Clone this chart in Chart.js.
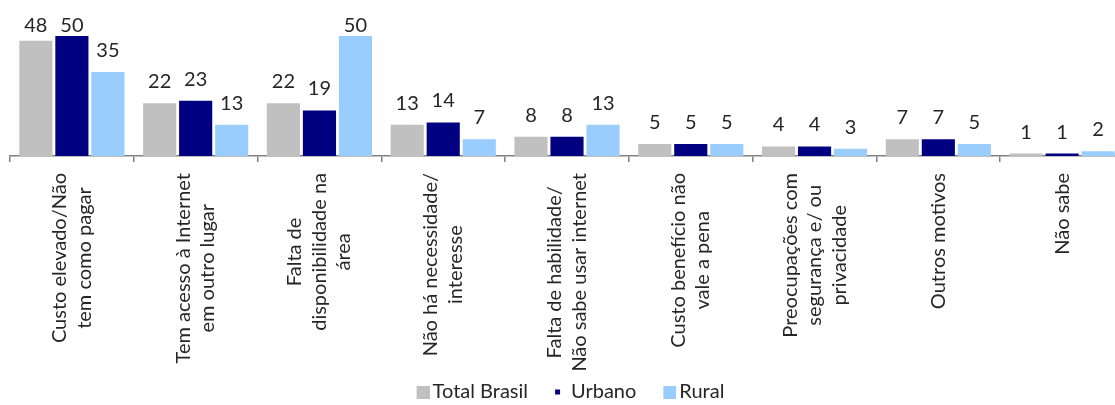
<!DOCTYPE html>
<html>
<head>
<meta charset="utf-8">
<script src="https://cdn.jsdelivr.net/npm/chart.js@4"></script>
<style>
  html, body { margin: 0; padding: 0; overflow: hidden; background: #fff; }
  #wrap { width: 1115px; height: 405px; overflow: hidden; }
  canvas { display: block; }
</style>
</head>
<body>
<div id="wrap"><canvas id="chart" width="1135" height="405" style="width:1135px;height:405px"></canvas></div>
<script>
// Motivos para não ter Internet no domicílio (%)
const categories = [
  ['Custo elevado/Não', 'tem como pagar'],
  ['Tem acesso à Internet', 'em outro lugar'],
  ['Falta de', 'disponibilidade na', 'área'],
  ['Não há necessidade/', 'interesse'],
  ['Falta de habilidade/', 'Não sabe usar internet'],
  ['Custo benefício não', 'vale a pena'],
  ['Preocupações com', 'segurança e/ ou', 'privacidade'],
  ['Outros motivos'],
  ['Não sabe']
];
const seriesNames = ['Total Brasil', 'Urbano', 'Rural'];
const totalBrasil = [48, 22, 22, 13, 8, 5, 4, 7, 1];
const urbano      = [50, 23, 19, 14, 8, 5, 4, 7, 1];
const rural       = [35, 13, 50, 7, 13, 5, 3, 5, 2];
const seriesColors = ['#C0C0C0', '#000080', '#99CCFF'];

const FONT = 'Lato, "Open Sans", sans-serif';
const TEXT_COLOR = '#262626';
const AXIS_COLOR = '#808080';

// Legend swatches: canvases so each series can have its own marker size
function makeSwatch(color, x, y, w, h) {
  const c = document.createElement('canvas');
  c.width = 27; c.height = 13;
  const g = c.getContext('2d');
  g.fillStyle = color;
  g.fillRect(x, y, w, h);
  return c;
}
const swatches = [
  makeSwatch(seriesColors[0], 14, 0, 13, 13),
  makeSwatch(seriesColors[1], 14, 4, 5, 5),
  makeSwatch(seriesColors[2], 14, 0, 13, 13)
];

// Value labels above each bar
const valueLabels = {
  id: 'valueLabels',
  afterDatasetsDraw(chart) {
    const { ctx } = chart;
    ctx.save();
    ctx.font = '20px ' + FONT;
    ctx.fillStyle = TEXT_COLOR;
    ctx.textAlign = 'center';
    ctx.textBaseline = 'alphabetic';
    chart.data.datasets.forEach((ds, di) => {
      chart.getDatasetMeta(di).data.forEach((bar, i) => {
        const y = Math.max(bar.y - 15, 32);
        ctx.fillText(String(ds.data[i]), bar.x, y);
      });
    });
    ctx.restore();
  }
};

// Rotated, multi-line category labels under the axis
const categoryLabels = {
  id: 'categoryLabels',
  afterDraw(chart) {
    const { ctx } = chart;
    const xs = chart.scales.x;
    const top = xs.top + 17;
    const lineH = 24.5;
    ctx.save();
    ctx.font = '20px ' + FONT;
    ctx.fillStyle = TEXT_COLOR;
    ctx.textAlign = 'center';
    ctx.textBaseline = 'middle';
    chart.data.labels.forEach((lines, i) => {
      const cx = xs.getPixelForValue(i);
      const maxW = Math.max(...lines.map(l => ctx.measureText(l).width));
      const midY = top + maxW / 2;
      lines.forEach((line, j) => {
        const lx = cx + (j - (lines.length - 1) / 2) * lineH;
        ctx.save();
        ctx.translate(lx, midY);
        ctx.rotate(-Math.PI / 2);
        ctx.fillText(line, 0, 0);
        ctx.restore();
      });
    });
    ctx.restore();
  }
};

new Chart(document.getElementById('chart'), {
  type: 'bar',
  data: {
    labels: categories,
    datasets: [
      { label: seriesNames[0], data: totalBrasil, backgroundColor: seriesColors[0] },
      { label: seriesNames[1], data: urbano, backgroundColor: seriesColors[1] },
      { label: seriesNames[2], data: rural, backgroundColor: seriesColors[2] }
    ]
  },
  options: {
    responsive: false,
    animation: false,
    devicePixelRatio: 1,
    datasets: { bar: { categoryPercentage: 0.873, barPercentage: 0.92 } },
    layout: { padding: { left: 10, right: 11, top: 0, bottom: -7 } },
    scales: {
      x: {
        offset: true,
        grid: { offset: true, drawOnChartArea: false, drawTicks: true, tickLength: 6, color: AXIS_COLOR, lineWidth: 1.5 },
        border: { display: true, color: AXIS_COLOR, width: 1.5 },
        ticks: { display: false },
        afterFit(scale) { scale.height = 206; }
      },
      y: { display: false, min: 0, max: 65 }
    },
    plugins: {
      tooltip: { enabled: false },
      legend: {
        position: 'bottom',
        labels: {
          font: { size: 20, family: FONT },
          color: TEXT_COLOR,
          usePointStyle: true,
          pointStyleWidth: 13,
          padding: 20,
          generateLabels(chart) {
            return chart.data.datasets.map((ds, i) => ({
              text: ds.label,
              fillStyle: ds.backgroundColor,
              strokeStyle: ds.backgroundColor,
              lineWidth: 0,
              pointStyle: swatches[i],
              hidden: false,
              datasetIndex: i,
              fontColor: TEXT_COLOR
            }));
          }
        }
      }
    }
  },
  plugins: [valueLabels, categoryLabels]
});
</script>
</body>
</html>
